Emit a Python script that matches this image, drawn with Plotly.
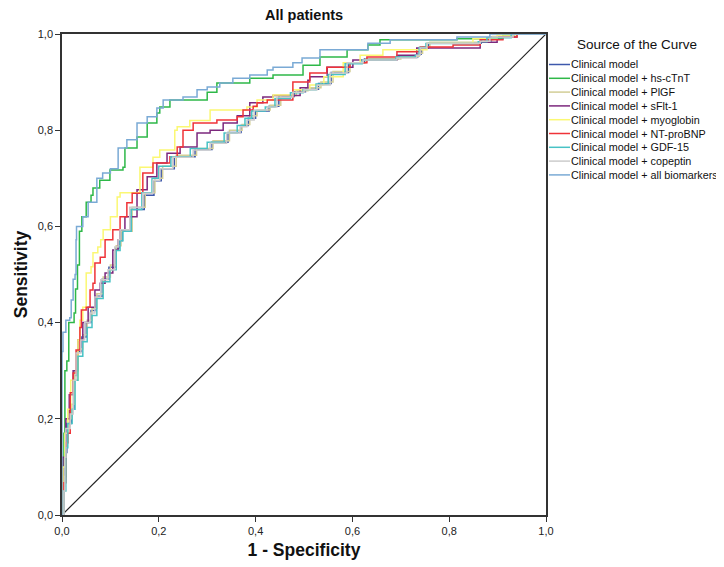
import plotly.graph_objects as go

# ROC curve points: (1 - specificity, sensitivity)
clinical = [(0,0),(0.004,0.06),(0.006,0.13),(0.010,0.19),(0.019,0.22),(0.025,0.29),(0.031,0.34),(0.041,0.37),(0.050,0.40),(0.060,0.425),(0.070,0.455),(0.083,0.49),(0.097,0.515),(0.111,0.555),(0.118,0.57),(0.124,0.59),(0.143,0.635),(0.170,0.665),(0.190,0.695),(0.205,0.72),(0.232,0.745),(0.275,0.76),(0.310,0.775),(0.343,0.795),(0.370,0.81),(0.385,0.825),(0.400,0.84),(0.428,0.85),(0.448,0.87),(0.480,0.88),(0.503,0.885),(0.530,0.897),(0.556,0.92),(0.592,0.94),(0.625,0.948),(0.695,0.952),(0.735,0.958),(0.742,0.971),(0.757,0.981),(0.866,0.986),(0.887,0.994),(0.934,1.0),(1,1)]

hs_ctnt = [(0,0),(0.002,0.10),(0.004,0.17),(0.006,0.30),(0.010,0.32),(0.014,0.40),(0.025,0.42),(0.028,0.47),(0.032,0.52),(0.036,0.59),(0.041,0.62),(0.050,0.65),(0.060,0.665),(0.064,0.68),(0.078,0.696),(0.099,0.717),(0.126,0.723),(0.130,0.763),(0.155,0.786),(0.176,0.815),(0.196,0.836),(0.202,0.848),(0.223,0.863),(0.300,0.879),(0.320,0.898),(0.388,0.908),(0.436,0.915),(0.498,0.935),(0.533,0.952),(0.589,0.967),(0.632,0.977),(0.657,0.988),(0.816,0.990),(0.911,0.998),(0.932,1.0),(1,1)]

plgf = [(0,0),(0.004,0.08),(0.008,0.15),(0.012,0.20),(0.020,0.23),(0.026,0.30),(0.033,0.345),(0.043,0.375),(0.052,0.405),(0.062,0.43),(0.072,0.46),(0.085,0.495),(0.100,0.52),(0.112,0.56),(0.122,0.59),(0.145,0.64),(0.172,0.67),(0.192,0.70),(0.208,0.725),(0.236,0.748),(0.278,0.762),(0.312,0.778),(0.346,0.80),(0.372,0.812),(0.388,0.83),(0.403,0.842),(0.430,0.852),(0.452,0.872),(0.484,0.882),(0.508,0.888),(0.535,0.90),(0.560,0.922),(0.595,0.94),(0.628,0.948),(0.700,0.954),(0.738,0.96),(0.745,0.973),(0.760,0.983),(0.870,0.988),(0.890,0.995),(0.930,1.0),(1,1)]

sflt1 = [(0,0),(0.002,0.12),(0.008,0.20),(0.015,0.25),(0.023,0.30),(0.033,0.364),(0.043,0.40),(0.054,0.432),(0.068,0.468),(0.079,0.482),(0.089,0.503),(0.105,0.551),(0.116,0.572),(0.120,0.593),(0.130,0.62),(0.155,0.676),(0.176,0.703),(0.196,0.732),(0.217,0.752),(0.244,0.765),(0.279,0.794),(0.306,0.80),(0.333,0.815),(0.362,0.83),(0.388,0.857),(0.415,0.869),(0.436,0.872),(0.492,0.888),(0.508,0.904),(0.512,0.911),(0.548,0.931),(0.601,0.946),(0.692,0.956),(0.733,0.971),(0.864,0.983),(0.899,0.994),(0.940,1.0),(1,1)]

myoglobin = [(0,0),(0.002,0.10),(0.006,0.17),(0.012,0.22),(0.018,0.28),(0.033,0.364),(0.037,0.405),(0.043,0.432),(0.050,0.503),(0.060,0.516),(0.064,0.545),(0.074,0.557),(0.080,0.572),(0.085,0.593),(0.100,0.62),(0.114,0.661),(0.120,0.67),(0.161,0.723),(0.188,0.744),(0.202,0.759),(0.233,0.80),(0.238,0.807),(0.264,0.82),(0.306,0.842),(0.382,0.848),(0.403,0.863),(0.436,0.873),(0.477,0.884),(0.512,0.894),(0.541,0.911),(0.581,0.94),(0.616,0.956),(0.663,0.967),(0.754,0.981),(0.849,0.99),(0.899,0.998),(0.940,1.0),(1,1)]

ntprobnp = [(0,0),(0.004,0.067),(0.008,0.15),(0.012,0.17),(0.017,0.254),(0.023,0.295),(0.029,0.343),(0.037,0.39),(0.040,0.426),(0.050,0.432),(0.058,0.468),(0.064,0.482),(0.068,0.524),(0.079,0.536),(0.089,0.572),(0.105,0.593),(0.120,0.62),(0.134,0.649),(0.145,0.669),(0.167,0.711),(0.188,0.732),(0.223,0.745),(0.238,0.765),(0.250,0.80),(0.271,0.815),(0.320,0.821),(0.362,0.828),(0.374,0.842),(0.395,0.85),(0.403,0.857),(0.424,0.863),(0.477,0.90),(0.512,0.919),(0.547,0.931),(0.595,0.94),(0.630,0.952),(0.692,0.963),(0.740,0.973),(0.808,0.977),(0.864,0.988),(0.911,0.994),(0.940,1.0),(1,1)]

gdf15 = [(0,0),(0.004,0.05),(0.008,0.14),(0.012,0.19),(0.021,0.22),(0.027,0.28),(0.033,0.33),(0.043,0.36),(0.052,0.39),(0.062,0.415),(0.072,0.45),(0.085,0.485),(0.099,0.51),(0.112,0.55),(0.120,0.57),(0.126,0.59),(0.143,0.635),(0.165,0.67),(0.186,0.70),(0.200,0.725),(0.225,0.745),(0.265,0.762),(0.300,0.775),(0.335,0.794),(0.362,0.81),(0.378,0.825),(0.392,0.84),(0.420,0.848),(0.440,0.866),(0.472,0.878),(0.498,0.884),(0.525,0.896),(0.550,0.916),(0.585,0.938),(0.620,0.946),(0.690,0.952),(0.730,0.956),(0.738,0.972),(0.752,0.98),(0.860,0.984),(0.878,0.992),(0.928,1.0),(1,1)]

copeptin = [(0,0),(0.004,0.05),(0.006,0.12),(0.008,0.18),(0.017,0.21),(0.023,0.28),(0.029,0.337),(0.039,0.364),(0.047,0.40),(0.058,0.42),(0.068,0.453),(0.080,0.489),(0.095,0.51),(0.109,0.557),(0.116,0.572),(0.120,0.593),(0.140,0.64),(0.167,0.669),(0.188,0.696),(0.202,0.72),(0.229,0.744),(0.271,0.759),(0.306,0.773),(0.340,0.794),(0.368,0.807),(0.382,0.821),(0.397,0.842),(0.424,0.848),(0.444,0.869),(0.477,0.879),(0.500,0.884),(0.527,0.894),(0.554,0.919),(0.589,0.94),(0.622,0.946),(0.692,0.95),(0.733,0.956),(0.740,0.971),(0.754,0.981),(0.864,0.985),(0.884,0.994),(0.932,1.0),(1,1)]

all_biomarkers = [(0,0),(0.000,0.34),(0.002,0.38),(0.008,0.405),(0.016,0.41),(0.019,0.447),(0.023,0.49),(0.027,0.50),(0.029,0.572),(0.030,0.60),(0.043,0.62),(0.054,0.65),(0.072,0.70),(0.084,0.711),(0.100,0.72),(0.116,0.763),(0.134,0.78),(0.155,0.815),(0.176,0.828),(0.196,0.846),(0.209,0.863),(0.250,0.869),(0.279,0.884),(0.300,0.89),(0.326,0.898),(0.353,0.908),(0.388,0.915),(0.424,0.925),(0.436,0.931),(0.477,0.94),(0.496,0.95),(0.533,0.967),(0.632,0.981),(0.678,0.988),(0.816,0.994),(0.884,1.0),(1,1)]

series_names = ["Clinical model", "Clinical model + hs-cTnT", "Clinical model + PlGF",
                "Clinical model + sFlt-1", "Clinical model + myoglobin", "Clinical model + NT-proBNP",
                "Clinical model + GDF-15", "Clinical model + copeptin", "Clinical model + all biomarkers"]
series_data = [clinical, hs_ctnt, plgf, sflt1, myoglobin, ntprobnp, gdf15, copeptin, all_biomarkers]
series_colors = ["#3E58AC", "#2EB848", "#D3CE97", "#7C287D", "#FBF873", "#EF3338", "#48C2C5", "#CCCCCC", "#7AAAD5"]

tick_vals = [0, 0.2, 0.4, 0.6, 0.8, 1.0]

FONT = "Liberation Sans, Arial, sans-serif"

# page has an 8px body offset; keep the figure inside the 724x567 window
OFF = 8
FIG_W, FIG_H = 724 - OFF, 567 - OFF
W_PLOT, H_PLOT, L, T = 484, 481, 62, 34   # target plot area in screenshot pixels
ML, MT = L - OFF, T - OFF
MR = FIG_W - ML - W_PLOT
MB = FIG_H - MT - H_PLOT

def px_x(px):
    return (px - L) / W_PLOT
def px_y(py):
    return (T + H_PLOT - py) / H_PLOT

fig = go.Figure()

# reference diagonal
fig.add_trace(go.Scatter(x=[0, 1], y=[0, 1], mode="lines",
                         line=dict(color="#222222", width=1.2), showlegend=False, hoverinfo="skip"))

for name, pts, col in zip(series_names, series_data, series_colors):
    fig.add_trace(go.Scatter(x=[p[0] for p in pts], y=[p[1] for p in pts], mode="lines",
                             name=name, line=dict(color=col, width=1.5, shape="hv"),
                             showlegend=False))

# manual legend (paper coordinates) to match the compact SPSS legend
fig.add_annotation(x=px_x(637), y=px_y(45), xref="paper", yref="paper", text="Source of the Curve",
                   showarrow=False, xanchor="center", yanchor="middle",
                   font=dict(family=FONT, size=13.5, color="#111111"))
for i, (name, col) in enumerate(zip(series_names, series_colors)):
    yy = 64.5 + i * 13.8
    fig.add_shape(type="line", xref="paper", yref="paper", x0=px_x(549), x1=px_x(570),
                  y0=px_y(yy), y1=px_y(yy), line=dict(color=col, width=1.5))
    fig.add_annotation(x=px_x(569), y=px_y(yy), xref="paper", yref="paper", text=name,
                       showarrow=False, xanchor="left", yanchor="middle",
                       font=dict(family=FONT, size=10.8, color="#111111"))

# title as annotation centred over the plot
fig.add_annotation(x=px_x(304), y=px_y(15), xref="paper", yref="paper", text="<b>All patients</b>",
                   showarrow=False, xanchor="center", yanchor="middle",
                   font=dict(family=FONT, size=14.5, color="#111111"))

axis_common = dict(range=[0, 1], tickvals=tick_vals, tickformat=".1f", ticks="outside", ticklen=5,
                   tickcolor="#333333", showline=True, linecolor="#333333", linewidth=1.5,
                   mirror=True, showgrid=False, zeroline=False,
                   tickfont=dict(family=FONT, size=11, color="#222222"))

fig.update_layout(
    width=FIG_W, height=FIG_H,
    margin=dict(l=ML, r=MR, t=MT, b=MB, autoexpand=False),
    paper_bgcolor="white", plot_bgcolor="white",
    separators=",.",
    xaxis=dict(**axis_common, title=dict(text="<b>1 - Specificity</b>", standoff=8,
                                         font=dict(family=FONT, size=17.5, color="#111111"))),
    yaxis=dict(**axis_common, title=dict(text="<b>Sensitivity</b>", standoff=6,
                                         font=dict(family=FONT, size=17.5, color="#111111"))),
    showlegend=False,
)

fig.write_html("out.html")
